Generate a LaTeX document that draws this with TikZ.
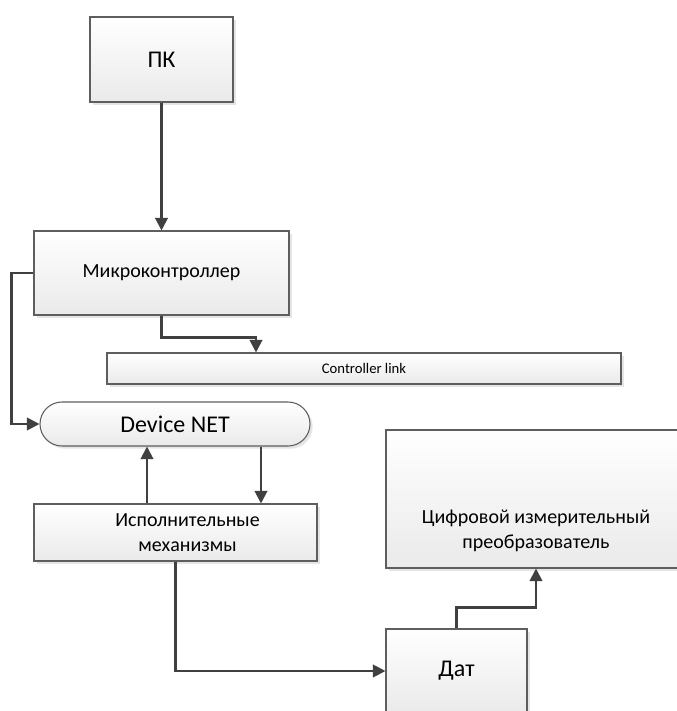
\documentclass[tikz,border=0pt]{standalone}
\usepackage{fontspec}
\setmainfont{Carlito}
\usetikzlibrary{positioning, arrows.meta}
\usetikzlibrary{shapes.misc, shadows}
\definecolor{boxline}{HTML}{5E5E5E}
\definecolor{boxfill}{HTML}{EAEAEA}
\definecolor{wireline}{HTML}{404040}
\def\px{0.75pt}
\tikzset{
    box/.style={draw=boxline, line width=0.8pt, top color=white, bottom color=boxfill,
      drop shadow={shadow xshift=2pt, shadow yshift=-2pt, fill=black!10, opacity=1},
      inner sep=0pt, text=black},
    wire/.style={draw=wireline, line width=1.6pt, -{Triangle[length=9.5pt,width=9.5pt]}},
    big/.style={font=\fontsize{18}{21}\selectfont},
    mid/.style={font=\fontsize{15}{18.5}\selectfont, align=center},
  }

\begin{document}
\begin{tikzpicture}[x=\px, y=-\px]
    \useasboundingbox (0,0) rectangle (677,711);
    \clip (0,0) rectangle (677,711);

    % blocks
    \node[box, big, minimum width=143*\px, minimum height=85*\px] (pk) at (161.5,59.5) {ПК};
    \node[box, font=\fontsize{15}{18}\selectfont, minimum width=255*\px, minimum height=84*\px] (mcu) at (161.5,273) {Микроконтроллер};
    \node[box, font=\fontsize{11}{13}\selectfont, minimum width=514*\px, minimum height=31*\px] (link) at (364,368.5) {Controller link};
    \node[box, big, rounded rectangle, minimum width=270*\px, minimum height=44*\px] (dnet) at (175,424) {Device NET};
    \node[box, minimum width=283*\px, minimum height=57*\px] (act) at (175.5,532.5) {};
    \node[mid] (acttext) at ([xshift=9pt]act.center) {Исполнительные\\механизмы};
    \node[box, minimum width=300*\px, minimum height=138*\px] (adc) at (536,499) {};
    \node[mid] (adctext) at (536,531) {Цифровой измерительный\\преобразователь};
    \node[box, big, minimum width=141*\px, minimum height=84*\px] (dat) at (456.5,671) {Дат};

    % connectors
    \coordinate (linkx) at (256,0);
    \coordinate (upx) at (147,0);
    \coordinate (downx) at (261,0);
    \draw[wire] (pk) -- (mcu);
    \draw[wire] (mcu.south) -- ++(0,22) -| (link.north -| linkx);
    \draw[wire] (mcu.west) -- ++(-22,0) |- (dnet.west);
    \draw[wire] (act.north -| upx) -- (dnet.south -| upx);
    \draw[wire] (dnet.south -| downx) -- (act.north -| downx);
    \draw[wire] (act.south) |- (dat.west);
    \draw[wire] (dat.north) -- ++(0,-21) -| (adc.south);
\end{tikzpicture}
\end{document}
